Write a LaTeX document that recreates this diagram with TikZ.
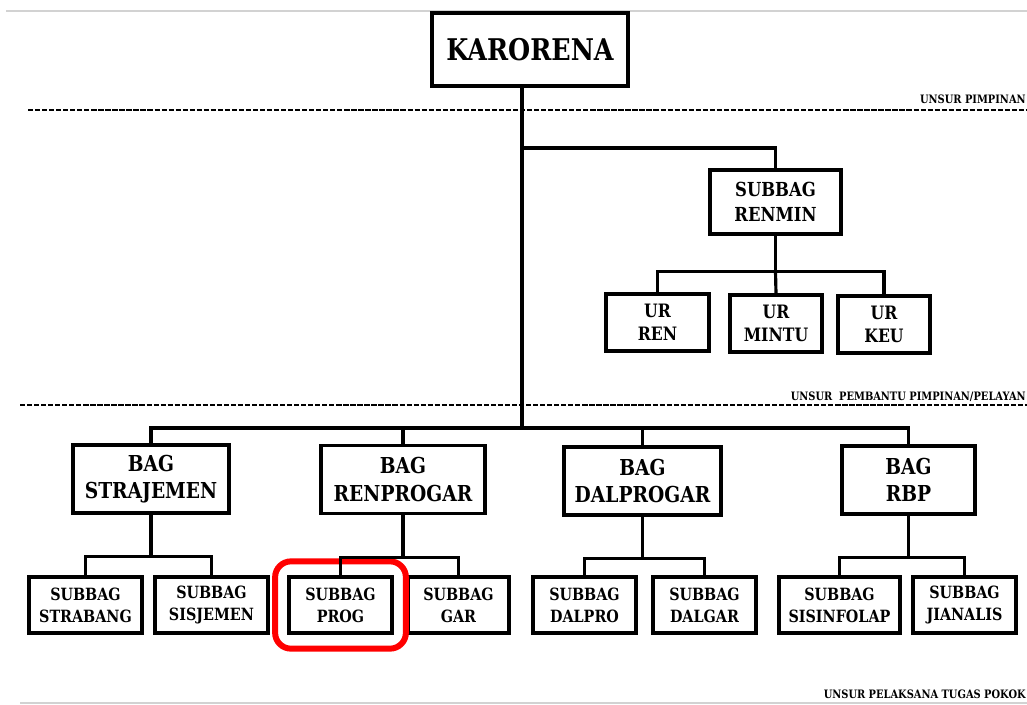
\documentclass[tikz,border=0pt]{standalone}
\usepackage{fontspec}
\setmainfont{DejaVu Serif}[FakeStretch=0.85]
\usetikzlibrary{fit}

\tikzset{
  unit/.style={draw, line width=1.8pt, align=center, inner sep=0pt, font=\bfseries},
  headbox/.style={unit, minimum width=196*0.02cm, minimum height=73*0.02cm, font=\bfseries\fontsize{17}{20}\selectfont},
  bagbox/.style={unit, minimum height=68*0.02cm, font=\bfseries\fontsize{12.5}{15.5}\selectfont},
  subbox/.style={unit, minimum height=56*0.02cm, font=\bfseries\fontsize{9.6}{12.5}\selectfont},
  urbox/.style={unit, minimum height=57*0.02cm, font=\bfseries\fontsize{10.5}{13}\selectfont},
  link/.style={line width=1.8pt},
  divider/.style={line width=1.2pt, dash pattern=on 3pt off 1pt},
  edge/.style={gray!35, line width=0.6pt},
  zone/.style={anchor=base east, inner sep=0pt, font=\bfseries\fontsize{6.6}{8}\selectfont},
  highlight/.style={draw=red, line width=3.4pt, rounded corners=9pt, inner xsep=7pt, inner ysep=8pt}
}

\begin{document}
\begin{tikzpicture}[x=0.02cm, y=-0.02cm]
\useasboundingbox (0,0) rectangle (1027,704);

% page edges and zone dividers
\draw[edge] (6,11) -- (1027,11);
\draw[edge] (20,703) -- (1027,703);
\draw[divider] (28,110) -- (1027,110);
\draw[divider] (20,405) -- (1027,405);
\node[zone] (zpimpinan) at (1026,103) {UNSUR PIMPINAN};
\node[zone] (zpembantu) at (1026,400) {UNSUR\ \ PEMBANTU PIMPINAN/PELAYAN};
\node[zone] (zpelaksana) at (1026,698) {UNSUR PELAKSANA TUGAS POKOK};

% head and staff
\node[headbox] (karorena) at (530,49.5) {KARORENA};
\node[unit, minimum width=131*0.02cm, minimum height=64*0.02cm, font=\bfseries\fontsize{11}{14}\selectfont] (renmin) at (775.5,202) {SUBBAG\\RENMIN};
\node[urbox, minimum width=103*0.02cm] (ren) at (657.5,322.5) {UR\\REN};
\node[urbox, minimum width=92*0.02cm] (mintu) at (776,323.5) {UR\\MINTU};
\node[urbox, minimum width=92*0.02cm] (keu) at (884,324.5) {UR\\KEU};

% bagian
\node[bagbox, minimum width=156*0.02cm] (bagstra) at (151,479) {BAG\\STRAJEMEN};
\node[bagbox, minimum width=164*0.02cm] (bagren) at (403,479.5) {BAG\\RENPROGAR};
\node[bagbox, minimum width=157*0.02cm] (bagdal) at (642.5,481) {BAG\\DALPROGAR};
\node[bagbox, minimum width=133*0.02cm] (bagrbp) at (908.5,480) {BAG\\RBP};

% subbagian
\node[subbox, minimum width=113*0.02cm] (strabang) at (85.5,605) {SUBBAG\\STRABANG};
\node[subbox, minimum width=113*0.02cm] (sisjemen) at (211.5,605) {SUBBAG\\SISJEMEN};
\node[subbox, minimum width=103*0.02cm] (prog) at (340.5,605) {SUBBAG\\PROG};
\node[subbox, minimum width=101*0.02cm] (gar) at (458.5,605) {SUBBAG\\GAR};
\node[subbox, minimum width=103*0.02cm] (dalpro) at (584.5,605) {SUBBAG\\DALPRO};
\node[subbox, minimum width=103*0.02cm] (dalgar) at (704.5,605) {SUBBAG\\DALGAR};
\node[subbox, minimum width=121*0.02cm] (sisinfo) at (839.5,605) {SUBBAG\\SISINFOLAP};
\node[subbox, minimum width=103*0.02cm] (jianalis) at (964.5,605) {SUBBAG\\JIANALIS};

\node[highlight, fit=(prog)] (mark) {};

% connectors
\coordinate (trunk) at (522,428);
\coordinate (staffbus) at (522,148);
\draw[link] (karorena.south -| trunk) -- (trunk);
\draw[link] (staffbus) -| (renmin.north);
\draw[link] (renmin.south) -- ++(0,36) coordinate (urbus);
\draw[link] (ren.north) |- (urbus) -| (keu.north);
\draw[link] (urbus) -- (mintu.north);
\draw[link] (bagstra.north) |- (trunk) -| (bagrbp.north);
\draw[link] (bagren.north) -- (bagren.north |- trunk);
\draw[link] (bagdal.north) -- (bagdal.north |- trunk);
\foreach \p/\l/\r in {bagstra/strabang/sisjemen, bagren/prog/gar, bagdal/dalpro/dalgar, bagrbp/sisinfo/jianalis}{
  \draw[link] (\p.south) -- ++(0,42) coordinate (\p-bus);
  \draw[link] (\l.north) |- (\p-bus) -| (\r.north);
}
\end{tikzpicture}
\end{document}
